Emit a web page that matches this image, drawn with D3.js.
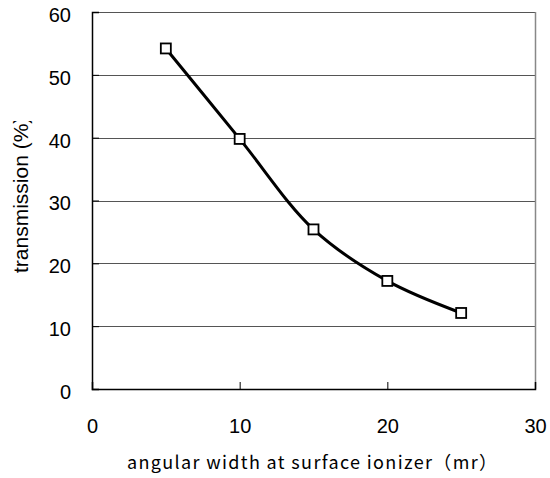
<!DOCTYPE html>
<html>
<head>
<meta charset="utf-8">
<script src="https://cdn.jsdelivr.net/npm/d3@7"></script>
<style>
  body { margin: 0; background: #fff; }
  svg { display: block; }
</style>
</head>
<body>
<svg id="chart" width="550" height="478"></svg>
<script>
// Measured transmission vs. angular width
const widths = [5, 10, 15, 20, 25];
const transmission = [54.2, 39.8, 25.4, 17.2, 12.1];
const xTicks = [0, 10, 20, 30];
const yTicks = [0, 10, 20, 30, 40, 50, 60];

const svg = d3.select("#chart");
const plotLeft = 92, plotRight = 535, plotTop = 12, plotBottom = 389;

const x = d3.scaleLinear().domain([0, 30]).range([plotLeft, plotRight]);
const y = d3.scaleLinear().domain([0, 60]).range([plotBottom, plotTop]);

// horizontal gridlines
svg.append("g")
  .selectAll("line")
  .data(yTicks.filter(d => d > 0))
  .join("line")
  .attr("x1", plotLeft).attr("x2", plotRight)
  .attr("y1", d => Math.round(y(d)) + 0.5).attr("y2", d => Math.round(y(d)) + 0.5)
  .attr("stroke", "#555").attr("stroke-width", 1);

// right border
svg.append("line")
  .attr("x1", plotRight + 0.5).attr("x2", plotRight + 0.5)
  .attr("y1", plotTop).attr("y2", plotBottom)
  .attr("stroke", "#888").attr("stroke-width", 1.5);

// y axis
const yAxis = d3.axisLeft(y).tickValues(yTicks).tickSize(-7).tickPadding(21).tickFormat(d3.format("d"));
const gy = svg.append("g").attr("transform", `translate(${plotLeft},0)`).call(yAxis);
gy.select(".domain").attr("stroke", "#000").attr("stroke-width", 1.5);
gy.selectAll(".tick line").attr("stroke", "#000").attr("stroke-width", 1);
gy.selectAll(".tick text")
  .attr("font-family", "Liberation Sans, Arial, sans-serif")
  .attr("font-size", 20).attr("fill", "#000")
  .attr("transform", "translate(0,3)");

// x axis
const xAxis = d3.axisBottom(x).tickValues(xTicks).tickSize(-7).tickPadding(30).tickFormat(d3.format("d"));
const gx = svg.append("g").attr("transform", `translate(0,${plotBottom})`).call(xAxis);
gx.select(".domain").attr("stroke", "#000").attr("stroke-width", 1.5);
gx.selectAll(".tick line").attr("stroke", "#000").attr("stroke-width", 1);
gx.selectAll(".tick text")
  .attr("font-family", "Liberation Sans, Arial, sans-serif")
  .attr("font-size", 20).attr("fill", "#000");

// smooth curve through the measurements
const pts = widths.map((w, i) => [w, transmission[i]]);
svg.append("path")
  .datum(pts)
  .attr("fill", "none")
  .attr("stroke", "#000")
  .attr("stroke-width", 3)
  .attr("d", d3.line().x(d => x(d[0])).y(d => y(d[1])).curve(d3.curveCatmullRom.alpha(0.5)));

// square markers
svg.append("g")
  .selectAll("rect")
  .data(pts)
  .join("rect")
  .attr("x", d => x(d[0]) - 5).attr("y", d => y(d[1]) - 5)
  .attr("width", 10).attr("height", 10)
  .attr("fill", "#fff")
  .attr("stroke", "#000").attr("stroke-width", 1.8);

// axis titles
svg.append("text")
  .attr("x", 127).attr("y", 469)
  .attr("font-family", "Noto Sans CJK JP, sans-serif")
  .attr("font-size", 18)
  .attr("fill", "#000")
  .attr("textLength", 370)
  .attr("lengthAdjust", "spacing")
  .text("angular width at surface ionizer（mr）");

// y title is cut off at its top end
svg.append("clipPath").attr("id", "ytitle-clip")
  .append("rect").attr("x", 0).attr("y", 121).attr("width", 60).attr("height", 300);

svg.append("g").attr("clip-path", "url(#ytitle-clip)")
  .append("text")
  .attr("transform", "translate(28,273) rotate(-90)")
  .attr("font-family", "Liberation Sans, Arial, sans-serif")
  .attr("font-size", 21)
  .attr("fill", "#000")
  .text("transmission (%)");
</script>
</body>
</html>
